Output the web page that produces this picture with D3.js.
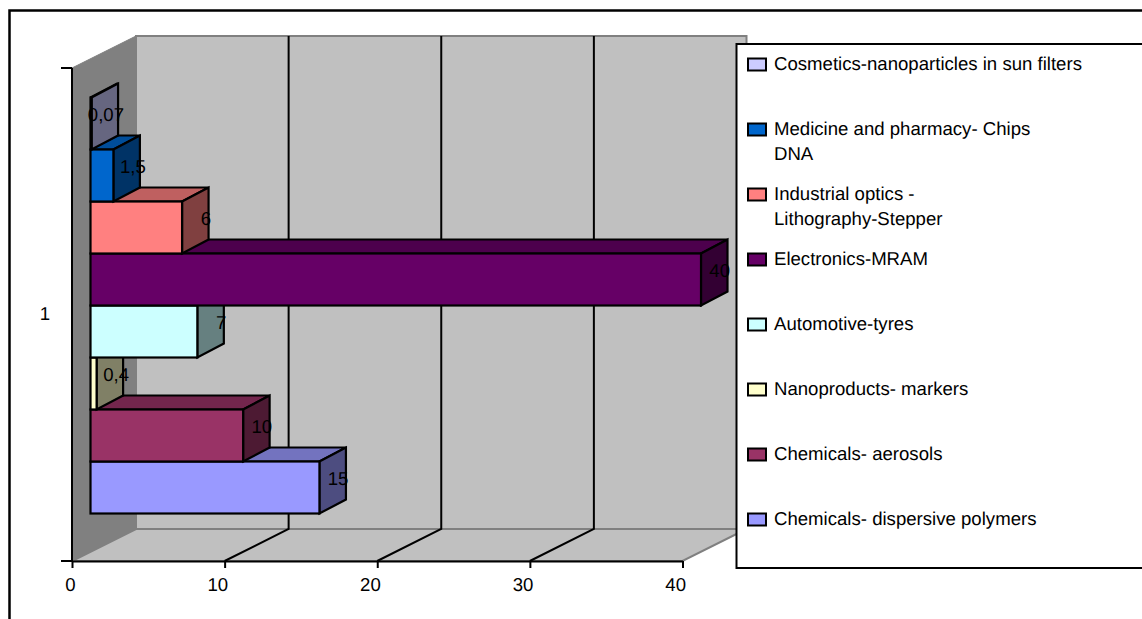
<!DOCTYPE html>
<html>
<head>
<meta charset="utf-8">
<script src="https://cdn.jsdelivr.net/npm/d3@7"></script>
<style>
  html, body { margin: 0; padding: 0; background: #fff; overflow: hidden; }
  text { font-family: "Liberation Sans", Arial, sans-serif; fill: #000; text-rendering: geometricPrecision; }
</style>
</head>
<body>
<svg id="chart" width="1142" height="619"></svg>
<script>
// data, bottom bar first
const categories = [
    "Chemicals- dispersive polymers",
    "Chemicals- aerosols",
    "Nanoproducts- markers",
    "Automotive-tyres",
    "Electronics-MRAM",
    "Industrial optics -\nLithography-Stepper",
    "Medicine and pharmacy- Chips\nDNA",
    "Cosmetics-nanoparticles in sun filters"
];
const values = [15, 10, 0.4, 7, 40, 6, 1.5, 0.07];
const colors = ["#9999FF", "#993366", "#FFFFCC", "#CCFFFF", "#660066", "#FF8080", "#0066CC", "#CCCCFF"];
const xTicks = [0, 10, 20, 30, 40];
const yLabel = "1";

const svg = d3.select("#chart");
const fontSize = "18.6px";

// scales
const x = d3.scaleLinear().domain([0, 40]).range([72, 682.5]);
const bandY = d3.scaleBand().domain(d3.range(values.length)).range([513.5, 97.5]);
const legendY = d3.scalePoint().domain(d3.range(categories.length)).range([519.5, 64.5]);

// 3d offsets
const wallDx = 64, wallDy = -32;
const barDx = 26.5, barDy = -14;
const barStart = 18.5;
const bottom = 561, top3d = 68;

const poly = pts => pts.map(p => p.join(",")).join(" ");
const shade = (c, k) => {
    const rgb = d3.rgb(c);
    return d3.rgb(rgb.r * k, rgb.g * k, rgb.b * k);
};

// outer frame
svg.append("rect")
    .attr("x", 9.5).attr("y", 10.5).attr("width", 1160).attr("height", 640)
    .attr("fill", "#fff").attr("stroke", "#000").attr("stroke-width", 2.5);

// walls and floor
svg.append("polygon")
    .attr("points", poly([[x(0) + wallDx, top3d + wallDy], [x(40) + wallDx, top3d + wallDy], [x(40) + wallDx, bottom + wallDy], [x(0) + wallDx, bottom + wallDy]]))
    .attr("fill", "#C0C0C0").attr("stroke", "#808080").attr("stroke-width", 2);
svg.append("polygon")
    .attr("points", poly([[x(0), top3d], [x(0) + wallDx, top3d + wallDy], [x(0) + wallDx, bottom + wallDy], [x(0), bottom]]))
    .attr("fill", "#808080").attr("stroke", "#808080").attr("stroke-width", 1);
svg.append("polygon")
    .attr("points", poly([[x(0), bottom], [x(0) + wallDx, bottom + wallDy], [x(40) + wallDx, bottom + wallDy], [x(40), bottom]]))
    .attr("fill", "#C0C0C0").attr("stroke", "#808080").attr("stroke-width", 2);

// gridlines
const inner = xTicks.slice(1, -1);
svg.append("g").selectAll("polyline").data(inner).join("polyline")
    .attr("points", d => poly([[x(d), bottom], [x(d) + wallDx, bottom + wallDy], [x(d) + wallDx, top3d + wallDy]]))
    .attr("fill", "none").attr("stroke", "#000").attr("stroke-width", 2);

// axes
const axisX = svg.append("g")
    .attr("transform", `translate(0,${bottom})`)
    .call(d3.axisBottom(x).tickValues(xTicks).tickSize(7).tickSizeOuter(0));
axisX.select(".domain").attr("stroke", "#000").attr("stroke-width", 2);
axisX.selectAll("line").attr("stroke", "#000").attr("stroke-width", 2);
axisX.selectAll("text")
    .attr("text-anchor", "end")
    .attr("x", 3).attr("y", 30).attr("dy", 0)
    .style("font-size", fontSize);

svg.append("line")
    .attr("x1", x(0)).attr("x2", x(0)).attr("y1", top3d).attr("y2", bottom)
    .attr("stroke", "#000").attr("stroke-width", 2);
svg.append("g").selectAll("line").data([top3d, bottom]).join("line")
    .attr("x1", 61).attr("x2", x(0)).attr("y1", d => d).attr("y2", d => d)
    .attr("stroke", "#000").attr("stroke-width", 2);
svg.append("text").text(yLabel)
    .attr("x", 45).attr("y", 320).attr("text-anchor", "middle")
    .style("font-size", fontSize);

// bars, bottom one first so the next one covers its top face
const barX0 = x(0) + barStart;
const barEnd = v => barX0 + (x(v) - x(0));
const bars = svg.append("g").selectAll("g").data(values).join("g")
    .attr("stroke", "#000").attr("stroke-width", 2.2).attr("stroke-linejoin", "miter");

bars.append("polygon") // top face
    .attr("points", (d, i) => {
        const y0 = bandY(i);
        return poly([[barX0, y0], [barX0 + barDx, y0 + barDy], [barEnd(d) + barDx, y0 + barDy], [barEnd(d), y0]]);
    })
    .attr("fill", (d, i) => shade(colors[i], 0.75));
bars.append("polygon") // end face
    .attr("points", (d, i) => {
        const y0 = bandY(i), y1 = y0 + bandY.bandwidth();
        return poly([[barEnd(d), y0], [barEnd(d) + barDx, y0 + barDy], [barEnd(d) + barDx, y1 + barDy], [barEnd(d), y1]]);
    })
    .attr("fill", (d, i) => shade(colors[i], 0.5));
bars.append("rect") // front face
    .attr("x", barX0)
    .attr("y", (d, i) => bandY(i))
    .attr("width", d => barEnd(d) - barX0)
    .attr("height", bandY.bandwidth())
    .attr("fill", (d, i) => colors[i]);

// value labels, the ones with a comma sit a bit further right
svg.append("g").selectAll("text").data(values).join("text")
    .text(d => String(d).replace(".", ","))
    .attr("x", d => barEnd(d) + (Number.isInteger(d) ? 29 : 32.5))
    .attr("y", (d, i) => bandY(i) + 23)
    .attr("text-anchor", "end")
    .style("font-size", fontSize);

// legend
svg.append("rect")
    .attr("x", 736.5).attr("y", 44).attr("width", 420).attr("height", 524)
    .attr("fill", "#fff").attr("stroke", "#000").attr("stroke-width", 2);

const legend = svg.append("g").selectAll("g").data(categories).join("g")
    .attr("transform", (d, i) => `translate(0,${legendY(i)})`);
legend.append("rect")
    .attr("x", 748).attr("y", -6).attr("width", 18).attr("height", 12)
    .attr("fill", (d, i) => colors[i])
    .attr("stroke", "#000").attr("stroke-width", 2);
legend.append("text")
    .style("font-size", fontSize)
    .selectAll("tspan").data(d => d.split("\n")).join("tspan")
    .attr("x", 774)
    .attr("y", (d, i) => 5.5 + i * 25)
    .text(d => d);
</script>
</body>
</html>
